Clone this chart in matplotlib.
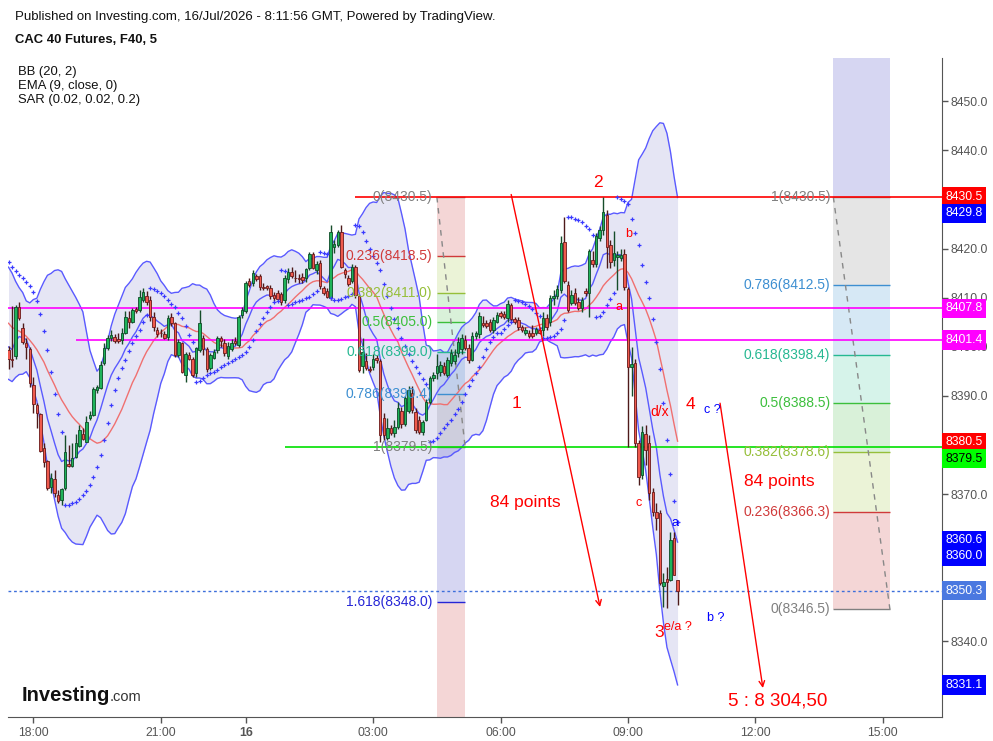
import numpy as np
import pandas as pd
import matplotlib
matplotlib.use("Agg")
import matplotlib.pyplot as plt

plt.rcParams['font.family'] = ['Liberation Sans', 'DejaVu Sans']

# 5 minute bars, bar index 0 = 18:00 (session break removed, as on the chart)
first_bar = -7

opens = [
    8399.3, 8397.6, 8398.2, 8408.0, 8403.8, 8400.7, 8399.5, 8392.2, 8388.1, 8386.4,
    8379.3, 8376.7, 8371.5, 8373.0, 8369.9, 8368.8, 8371.2, 8376.1, 8375.8, 8377.5,
    8379.8, 8382.2, 8380.5, 8385.5, 8386.1, 8391.2, 8391.5, 8396.6, 8399.7, 8401.7,
    8402.0, 8401.6, 8401.3, 8402.9, 8405.8, 8405.0, 8407.7, 8407.5, 8409.5, 8410.4,
    8409.5, 8406.0, 8403.4, 8402.9, 8402.5, 8402.0, 8406.0, 8404.8, 8398.3, 8400.7,
    8394.2, 8398.3, 8397.5, 8394.6, 8399.3, 8401.7, 8399.5, 8395.6, 8397.8, 8399.3,
    8401.7, 8400.7, 8398.2, 8399.5, 8401.2, 8400.4, 8406.5, 8407.2, 8413.3, 8412.9,
    8414.4, 8414.4, 8412.2, 8412.3, 8411.9, 8410.5, 8410.9, 8410.7, 8409.5, 8413.7,
    8415.3, 8414.1, 8414.1, 8414.3, 8413.9, 8416.0, 8418.9, 8415.6, 8417.0, 8411.9,
    8411.4, 8409.9, 8420.3, 8420.7, 8423.4, 8415.6, 8414.1, 8413.3, 8416.2, 8410.3,
    8396.0, 8397.0, 8395.5, 8395.8, 8397.8, 8397.0, 8385.5, 8381.5, 8383.4, 8382.4,
    8383.7, 8387.0, 8384.2, 8387.0, 8390.5, 8386.8, 8385.1, 8382.7, 8385.1, 8388.8,
    8393.6, 8394.6, 8394.9, 8396.0, 8394.2, 8396.6, 8397.0, 8398.7, 8399.5, 8401.4,
    8399.7, 8397.3, 8402.1, 8402.6, 8404.8, 8404.8, 8405.0, 8403.5, 8405.1, 8406.8,
    8406.7, 8405.8, 8408.5, 8405.6, 8405.5, 8404.1, 8402.8, 8402.7, 8402.9, 8402.9,
    8403.4, 8403.4, 8405.8, 8405.1, 8409.9, 8410.4, 8411.6, 8421.4, 8412.6, 8409.0,
    8410.9, 8409.2, 8407.8, 8411.4, 8411.0, 8417.7, 8416.9, 8422.1, 8423.8, 8426.8,
    8420.7, 8417.7, 8418.2, 8418.0, 8418.9, 8411.7, 8395.8, 8396.6, 8380.3, 8373.9,
    8382.2, 8380.3, 8370.5, 8366.4, 8366.1, 8351.3, 8352.8, 8352.5, 8361.0, 8352.6,
]
highs = [
    8400.2, 8408.2, 8408.6, 8409.2, 8404.8, 8401.7, 8400.0, 8393.9, 8388.5, 8386.6,
    8380.3, 8376.9, 8374.2, 8374.9, 8370.8, 8371.2, 8382.0, 8380.0, 8380.3, 8382.3,
    8384.1, 8383.5, 8385.8, 8386.9, 8391.8, 8392.3, 8397.0, 8400.7, 8402.4, 8403.4,
    8402.5, 8402.8, 8403.8, 8407.3, 8407.2, 8407.8, 8408.0, 8411.6, 8411.9, 8411.3,
    8410.3, 8407.0, 8404.0, 8403.6, 8403.2, 8406.5, 8406.8, 8405.1, 8401.5, 8401.0,
    8399.0, 8399.0, 8398.0, 8400.0, 8407.5, 8402.4, 8400.0, 8398.7, 8399.6, 8402.2,
    8402.2, 8401.5, 8401.0, 8401.5, 8402.0, 8406.5, 8408.0, 8413.3, 8414.0, 8415.6,
    8414.8, 8414.8, 8412.9, 8412.6, 8412.6, 8411.2, 8411.6, 8411.2, 8414.6, 8416.0,
    8416.3, 8415.6, 8414.8, 8415.0, 8416.1, 8419.2, 8419.3, 8417.4, 8417.6, 8412.4,
    8412.0, 8424.8, 8421.7, 8423.8, 8424.8, 8416.0, 8414.6, 8416.8, 8416.6, 8410.5,
    8401.7, 8398.7, 8396.1, 8398.5, 8398.4, 8397.5, 8386.5, 8385.4, 8384.0, 8385.1,
    8388.8, 8387.8, 8390.0, 8392.0, 8392.0, 8387.5, 8385.8, 8385.0, 8389.3, 8394.0,
    8394.8, 8398.5, 8397.0, 8396.8, 8398.0, 8399.5, 8399.5, 8402.0, 8402.5, 8402.3,
    8400.5, 8403.0, 8403.2, 8407.0, 8406.3, 8405.5, 8405.6, 8406.0, 8407.0, 8407.3,
    8407.2, 8409.5, 8409.0, 8406.0, 8406.0, 8404.5, 8404.0, 8403.5, 8404.4, 8404.0,
    8404.0, 8407.0, 8406.6, 8410.5, 8411.6, 8412.5, 8422.5, 8426.5, 8413.3, 8411.6,
    8411.9, 8410.2, 8410.2, 8412.0, 8420.0, 8419.5, 8423.2, 8424.5, 8430.5, 8427.9,
    8421.7, 8423.5, 8419.5, 8420.0, 8420.0, 8412.2, 8400.0, 8397.5, 8381.0, 8383.8,
    8384.1, 8382.0, 8371.2, 8368.1, 8366.7, 8353.9, 8355.2, 8362.3, 8362.3, 8352.6,
]
lows = [
    8395.4, 8395.8, 8397.5, 8405.5, 8400.6, 8397.6, 8391.9, 8386.6, 8383.4, 8378.6,
    8375.6, 8370.8, 8370.2, 8369.5, 8368.1, 8367.8, 8370.8, 8375.5, 8375.5, 8377.3,
    8379.6, 8381.0, 8380.5, 8385.0, 8385.8, 8390.5, 8391.3, 8396.3, 8399.3, 8401.2,
    8400.8, 8400.8, 8400.6, 8402.5, 8403.8, 8404.8, 8406.8, 8407.1, 8409.2, 8408.4,
    8405.2, 8403.2, 8402.0, 8402.0, 8401.5, 8401.4, 8404.3, 8398.0, 8398.0, 8394.6,
    8392.9, 8397.3, 8393.9, 8393.9, 8399.0, 8398.3, 8394.9, 8395.3, 8397.6, 8398.8,
    8399.9, 8398.2, 8397.5, 8399.2, 8400.4, 8399.9, 8405.8, 8406.8, 8412.2, 8412.3,
    8413.4, 8411.6, 8411.5, 8411.6, 8409.8, 8409.4, 8409.4, 8408.6, 8409.0, 8413.0,
    8413.9, 8413.2, 8412.9, 8413.0, 8413.2, 8415.6, 8415.8, 8414.9, 8411.8, 8410.6,
    8409.9, 8409.5, 8419.1, 8420.4, 8416.0, 8414.0, 8412.3, 8412.9, 8410.0, 8394.9,
    8394.6, 8395.3, 8394.8, 8395.3, 8396.6, 8380.6, 8381.0, 8381.0, 8382.0, 8381.7,
    8383.2, 8383.5, 8383.8, 8386.5, 8386.5, 8382.5, 8382.3, 8382.0, 8384.8, 8388.3,
    8393.0, 8393.5, 8394.0, 8394.2, 8393.8, 8396.0, 8396.5, 8398.0, 8398.5, 8399.3,
    8396.6, 8397.0, 8401.5, 8401.7, 8404.1, 8403.8, 8403.0, 8402.8, 8404.8, 8405.8,
    8405.6, 8405.0, 8405.0, 8404.6, 8403.5, 8403.0, 8402.3, 8401.8, 8401.7, 8402.3,
    8402.5, 8402.2, 8403.5, 8404.3, 8408.5, 8409.7, 8411.0, 8413.0, 8407.1, 8408.5,
    8408.5, 8407.4, 8407.0, 8410.3, 8406.0, 8416.3, 8416.3, 8421.5, 8422.8, 8416.0,
    8416.0, 8416.5, 8411.6, 8417.5, 8411.5, 8379.5, 8390.0, 8379.5, 8371.8, 8373.0,
    8375.9, 8368.8, 8365.5, 8362.7, 8351.5, 8347.0, 8346.7, 8352.2, 8353.5, 8347.4,
]
closes = [
    8397.6, 8397.3, 8408.0, 8405.8, 8400.9, 8400.0, 8392.6, 8388.3, 8386.6, 8378.8,
    8376.5, 8371.2, 8373.2, 8370.3, 8368.6, 8371.0, 8378.6, 8375.7, 8377.3, 8380.3,
    8383.0, 8381.3, 8384.7, 8386.2, 8391.3, 8391.7, 8396.3, 8399.7, 8401.7, 8402.3,
    8401.1, 8401.2, 8402.7, 8406.1, 8405.1, 8407.4, 8407.2, 8410.1, 8411.1, 8409.2,
    8406.0, 8404.0, 8402.6, 8402.7, 8401.8, 8405.8, 8404.9, 8398.3, 8401.0, 8394.9,
    8398.5, 8397.6, 8394.2, 8399.7, 8404.8, 8399.5, 8395.4, 8398.3, 8398.9, 8401.8,
    8401.1, 8398.7, 8400.2, 8400.7, 8400.7, 8406.1, 8407.4, 8413.0, 8412.6, 8415.0,
    8413.7, 8412.2, 8411.9, 8412.0, 8410.3, 8409.9, 8409.7, 8409.2, 8413.9, 8415.3,
    8414.4, 8413.9, 8413.7, 8413.5, 8415.8, 8418.9, 8416.0, 8416.8, 8412.4, 8411.0,
    8410.2, 8423.4, 8421.0, 8423.4, 8416.3, 8414.8, 8412.8, 8416.3, 8410.5, 8395.3,
    8399.0, 8395.6, 8395.2, 8397.5, 8397.2, 8382.0, 8382.0, 8383.4, 8382.4, 8383.7,
    8387.5, 8384.2, 8389.5, 8391.2, 8387.1, 8383.0, 8382.7, 8384.7, 8388.8, 8393.6,
    8394.3, 8396.0, 8396.3, 8394.6, 8397.3, 8398.7, 8398.3, 8401.0, 8401.7, 8399.7,
    8397.3, 8402.1, 8402.8, 8406.3, 8404.4, 8404.3, 8403.5, 8405.5, 8406.5, 8406.3,
    8406.0, 8408.8, 8405.6, 8405.1, 8404.1, 8403.4, 8403.5, 8402.1, 8402.2, 8403.6,
    8402.9, 8405.8, 8404.0, 8409.9, 8410.3, 8411.7, 8421.2, 8413.3, 8407.5, 8410.5,
    8408.9, 8407.8, 8409.6, 8411.0, 8419.4, 8416.9, 8422.6, 8423.8, 8427.5, 8420.4,
    8417.3, 8419.0, 8418.7, 8418.7, 8412.1, 8395.8, 8396.4, 8380.3, 8373.5, 8382.7,
    8378.9, 8370.2, 8366.4, 8365.1, 8351.8, 8352.0, 8352.1, 8360.6, 8353.5, 8350.3,
]
# closes before the visible window, only used to warm up the indicators
warmup_close = [8412, 8414, 8416, 8413, 8410, 8412, 8409, 8406, 8407, 8404,
                8402, 8405, 8403, 8400, 8401, 8399, 8402, 8400, 8398, 8397]

tick_pos = [0, 36, 60, 96, 132, 168, 204, 240]
tick_lab = ['18:00', '21:00', '16', '03:00', '06:00', '09:00', '12:00', '15:00']
# 8350, 8360, 8380 and 8430 sit fully under the price tags on the reference
price_ticks = [8340, 8370, 8390, 8400, 8410, 8420, 8440, 8450]

# price tags on the right scale: value, box colour, text colour
tag_values = [8430.5, 8429.8, 8407.8, 8401.4, 8380.5, 8379.5, 8360.6, 8360.0, 8350.3, 8331.1]
tag_colors = ['#ff0000', '#0000ff', '#ff00ff', '#ff00ff', '#ff0000', '#00ff00',
              '#0000ff', '#0000ff', '#4a78e0', '#0000ff']
tag_text = ['white'] * 5 + ['black'] + ['white'] * 4

# fibonacci tools
fib_a_top, fib_a_bottom, fib_a_bars = 8430.5, 8379.5, (114, 122)
fib_a_levels = [0, 0.236, 0.382, 0.5, 0.618, 0.786, 1, 1.618, 2.618]
fib_b_bottom, fib_b_top, fib_b_bars = 8346.5, 8430.5, (226, 242)
fib_b_levels = [0, 0.236, 0.382, 0.5, 0.618, 0.786, 1, 1.618]
fib_line_col = {0: '#808080', 0.236: '#d03a3a', 0.382: '#96bf3a', 0.5: '#3cbf3c',
                0.618: '#26b892', 0.786: '#3d8fd1', 1: '#808080', 1.618: '#2626d6',
                2.618: '#d03a3a'}
fib_fill_col = {0.236: '#f4d6d6', 0.382: '#ebf3d7', 0.5: '#d9f1d9', 0.618: '#d6f3ea',
                0.786: '#d6e8f5', 1: '#e5e5e5', 1.618: '#d6d6f2', 2.618: '#f4d6d6'}


def parabolic_sar(hi, lo, sar, ep, af, step=0.02, top=0.2):
    out = np.empty(len(hi))
    up = False
    out[0] = sar
    for k in range(1, len(hi)):
        sar = sar + af * (ep - sar)
        if up:
            sar = min(sar, lo[k - 1], lo[max(k - 2, 0)])
            if lo[k] < sar:
                up, sar, ep, af = False, ep, lo[k], step
            elif hi[k] > ep:
                ep, af = hi[k], min(af + step, top)
        else:
            sar = max(sar, hi[k - 1], hi[max(k - 2, 0)])
            if hi[k] > sar:
                up, sar, ep, af = True, ep, hi[k], step
            elif lo[k] < ep:
                ep, af = lo[k], min(af + step, top)
        out[k] = sar
    return out


def main():
    o = np.array(opens); h = np.array(highs); l = np.array(lows); c = np.array(closes)
    n = len(c)
    x = np.arange(first_bar, first_bar + n)

    full = pd.Series(warmup_close + closes)
    basis = full.rolling(20).mean().values[-n:]
    sd = full.rolling(20).std(ddof=0).values[-n:]
    upper, lower = basis + 2 * sd, basis - 2 * sd
    ema = full.ewm(span=9, adjust=False).mean().values[-n:]
    sar = parabolic_sar(h, l, 8417.2, 8395.4, 0.04)

    fig = plt.figure(figsize=(9.93, 7.41), dpi=100)
    ax = fig.add_axes([8 / 993, 1 - 717 / 741, 934 / 993, 659 / 741])
    x_right = 256.7
    ax.set_xlim(-7.15, x_right)
    ax.set_ylim(8324.6, 8458.8)

    # bollinger bands + ema
    ax.fill_between(x, lower, upper, color='#2a2aa8', alpha=0.12, lw=0, zorder=1)
    ax.plot(x, upper, color='#5a5aff', lw=1, zorder=2)
    ax.plot(x, lower, color='#5a5aff', lw=1, zorder=2)
    ax.plot(x, basis, color='#f07070', lw=1, zorder=2)
    ax.plot(x, ema, color='#5a5aff', lw=1, zorder=2)

    # fib retracement on the left (top -> bottom)
    span_a = fib_a_top - fib_a_bottom
    vals_a = [fib_a_top - lv * span_a for lv in fib_a_levels]
    x0, x1 = fib_a_bars
    for k in range(1, len(fib_a_levels)):
        ax.fill_between([x0, x1], vals_a[k], vals_a[k - 1],
                        color=fib_fill_col[fib_a_levels[k]], lw=0, zorder=0.5)
    for lv, v in zip(fib_a_levels, vals_a):
        ax.hlines(v, x0, x1, color=fib_line_col[lv], lw=1, zorder=2.5)
        if v > 8326:
            ax.text(x0 - 1.3, v, '%g(%.1f)' % (lv, v), color=fib_line_col[lv],
                    fontsize=10, ha='right', va='center', zorder=6)
    ax.plot([x0, x1], [fib_a_top, fib_a_bottom], color='#888888', lw=1,
            ls=(0, (4, 4)), zorder=2.6)

    # fib retracement on the right (bottom -> top)
    span_b = fib_b_top - fib_b_bottom
    vals_b = [fib_b_bottom + lv * span_b for lv in fib_b_levels]
    x0, x1 = fib_b_bars
    for k in range(1, len(fib_b_levels)):
        ax.fill_between([x0, x1], vals_b[k - 1], vals_b[k],
                        color=fib_fill_col[fib_b_levels[k]], lw=0, zorder=0.5)
    for lv, v in zip(fib_b_levels, vals_b):
        ax.hlines(v, x0, x1, color=fib_line_col[lv], lw=1, zorder=2.5)
        if v < 8456:
            ax.text(x0 - 0.9, v, '%g(%.1f)' % (lv, v), color=fib_line_col[lv],
                    fontsize=10, ha='right', va='center', zorder=6)
    ax.plot([x0, x1], [fib_b_top, fib_b_bottom], color='#888888', lw=1,
            ls=(0, (4, 4)), zorder=2.6)

    # horizontal levels
    ax.hlines(8430.5, 91, x_right, color='#ff0000', lw=1.2, zorder=2.7)
    ax.hlines(8379.5, 71, x_right, color='#00e000', lw=1.2, zorder=2.7)
    ax.hlines(8407.8, -7.15, x_right, color='#ff00ff', lw=1.2, zorder=2.7)
    ax.hlines(8401.4, 12, x_right, color='#ff00ff', lw=1.2, zorder=2.7)
    ax.axhline(c[-1], color='#3d6fdb', lw=1, ls=(0, (2, 2)), zorder=2.7)

    # candles
    up = c >= o
    body_lo = np.minimum(o, c)
    body_h = np.maximum(np.abs(c - o), 0.15)
    ax.vlines(x[up], l[up], h[up], color='#164d2a', lw=1, zorder=3)
    ax.vlines(x[~up], l[~up], h[~up], color='#4d1a1a', lw=1, zorder=3)
    ax.bar(x[up], body_h[up], bottom=body_lo[up], width=0.7, color='#1fb35a',
           edgecolor='#0d4a26', linewidth=0.6, zorder=4)
    ax.bar(x[~up], body_h[~up], bottom=body_lo[~up], width=0.7, color='#ef5a4d',
           edgecolor='#6b1a1a', linewidth=0.6, zorder=4)

    # parabolic sar
    ax.plot(x, sar, ls='', marker='+', ms=3.4, mew=0.9, color='#3a3aff', zorder=4.5)

    # wave annotations
    red = '#ff0000'
    ax.annotate('', xy=(160.1, 8347.0), xytext=(135, 8431.0),
                arrowprops=dict(arrowstyle='->', color=red, lw=1, shrinkA=0, shrinkB=0),
                zorder=5)
    ax.annotate('', xy=(206.1, 8330.5), xytext=(194, 8388.5),
                arrowprops=dict(arrowstyle='->', color=red, lw=1, shrinkA=0, shrinkB=0),
                zorder=5)
    big = dict(color=red, fontsize=12.5, ha='center', va='center', zorder=6)
    ax.text(159.5, 8433.4, '2', **big)
    ax.text(136.6, 8388.5, '1', **big)
    ax.text(185.5, 8388.3, '4', **big)
    ax.text(176.8, 8341.9, '3', **big)
    ax.text(138.9, 8368.2, '84 points', color=red, fontsize=12.5, ha='center',
            va='center', zorder=6)
    ax.text(210.7, 8372.5, '84 points', color=red, fontsize=12.5, ha='center',
            va='center', zorder=6)
    ax.text(210.4, 8327.9, '5 : 8 304,50', color=red, fontsize=13.5, ha='center',
            va='center', zorder=6)
    small = dict(fontsize=9, ha='center', va='center', zorder=6)
    ax.text(182.1, 8342.9, 'e/a ?', color=red, **small)
    ax.text(171.1, 8368.2, 'c', color=red, **small)
    ax.text(177.0, 8386.7, 'd/x', color=red, fontsize=10, ha='center', va='center', zorder=6)
    ax.text(168.3, 8423.0, 'b', color=red, **small)
    ax.text(165.5, 8408.1, 'a', color=red, **small)
    ax.text(181.3, 8364.1, 'a', color='#0000ff', **small)
    ax.text(191.7, 8387.1, 'c ?', color='#0000ff', **small)
    ax.text(192.9, 8344.8, 'b ?', color='#0000ff', **small)

    # axes look
    for side in ('left', 'top'):
        ax.spines[side].set_visible(False)
    for side in ('right', 'bottom'):
        ax.spines[side].set_color('#555555')
    ax.yaxis.tick_right()
    ax.set_yticks(price_ticks)
    ax.set_yticklabels(['%.1f' % v for v in price_ticks])
    ax.set_xticks(tick_pos)
    ax.set_xticklabels(tick_lab)
    ax.tick_params(axis='both', colors='#555555', labelsize=8.8, length=4, width=1)
    ax.tick_params(axis='y', pad=2)
    ax.tick_params(axis='x', pad=3)
    for lab in ax.get_xticklabels():
        if lab.get_text() == '16':
            lab.set_fontweight('bold')

    # price tags, pushed apart when they overlap
    order = np.argsort(tag_values)[::-1]
    prev = None
    for k in order:
        yv = tag_values[k]
        if prev is not None and prev - yv < 3.3:
            yv = prev - 3.3
        prev = yv
        ax.text(1.0035, yv, '%.1f' % tag_values[k], transform=ax.get_yaxis_transform(),
                color=tag_text[k], fontsize=8.8, ha='left', va='center', clip_on=False,
                zorder=7, bbox=dict(boxstyle='square,pad=0.3', fc=tag_colors[k], ec='none'))

    # header and legend
    fig.text(15 / 993, 1 - 17 / 741, 'Published on Investing.com, 16/Jul/2026 - 8:11:56 GMT, '
             'Powered by TradingView.', fontsize=9.5, va='center', color='#111111')
    fig.text(15 / 993, 1 - 40 / 741, 'CAC 40 Futures, F40, 5', fontsize=9.4,
             fontweight='bold', va='center', color='#111111')
    for k, s in enumerate(['BB (20, 2)', 'EMA (9, close, 0)', 'SAR (0.02, 0.02, 0.2)']):
        fig.text(18 / 993, 1 - (72 + 14 * k) / 741, s, fontsize=9.4, va='center',
                 color='#111111')
    fig.text(22 / 993, 1 - 701 / 741, 'Investing', fontsize=14.5, fontweight='bold',
             color='#111111', va='baseline')
    fig.text(110 / 993, 1 - 701 / 741, '.com', fontsize=10.5, color='#333333', va='baseline')

    fig.savefig('out.png', dpi=100, facecolor='white')


if __name__ == "__main__":
    main()
